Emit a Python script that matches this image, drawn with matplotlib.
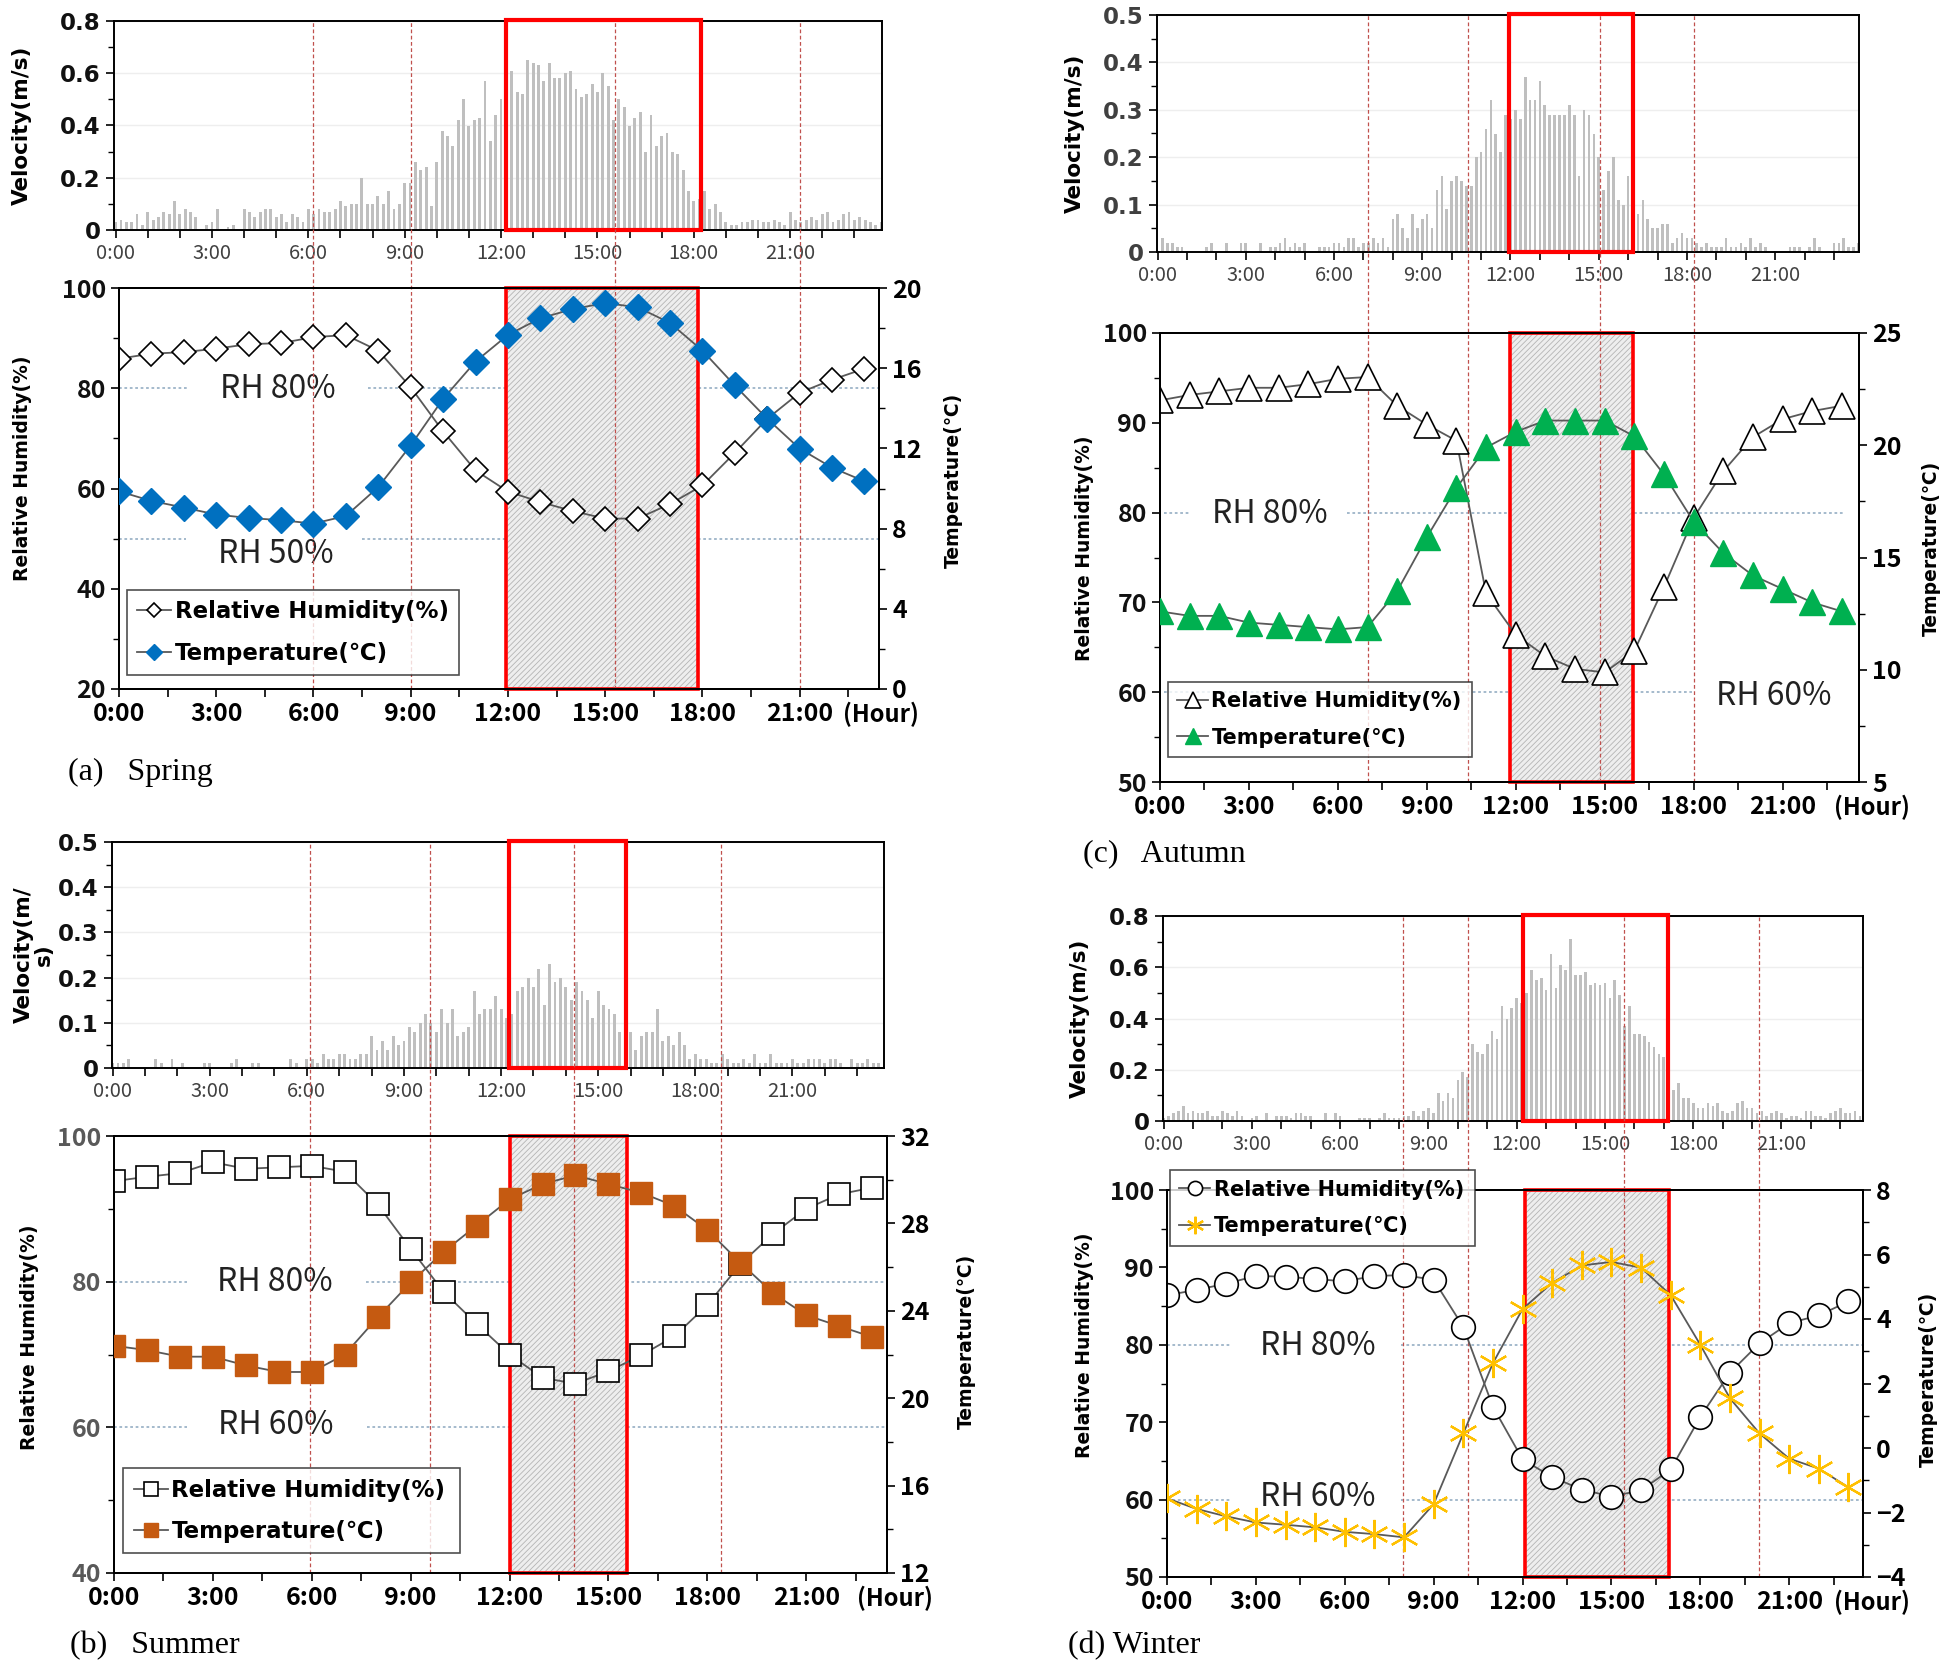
import numpy as np
import matplotlib
matplotlib.use("Agg")
import matplotlib.pyplot as plt
import matplotlib.transforms as mtrans
from matplotlib.patches import Rectangle
from matplotlib.lines import Line2D
from matplotlib.ticker import MultipleLocator, FuncFormatter

W, H, DPI = 1947, 1666, 100
plt.rcParams['font.family'] = ['Noto Sans CJK KR', 'DejaVu Sans']
plt.rcParams['hatch.linewidth'] = 0.6

HOURS = list(range(24))
TICK_HOURS = [0, 3, 6, 9, 12, 15, 18, 21]
TICK_LABELS = ["0:00", "3:00", "6:00", "9:00", "12:00", "15:00", "18:00", "21:00"]

# ---------------- data (10-min velocity, hourly RH / temperature) ----------------
spring_velocity = [
    0.03, 0.04, 0.03, 0.03, 0.06, 0.02, 0.07, 0.04, 0.05, 0.07, 0.06, 0.11,
    0.06, 0.08, 0.07, 0.05, 0.00, 0.02, 0.03, 0.08, 0.00, 0.01, 0.02, 0.00,
    0.08, 0.07, 0.05, 0.07, 0.08, 0.08, 0.05, 0.06, 0.03, 0.06, 0.05, 0.03,
    0.08, 0.06, 0.08, 0.07, 0.07, 0.08, 0.11, 0.09, 0.10, 0.10, 0.20, 0.10,
    0.10, 0.13, 0.10, 0.15, 0.08, 0.10, 0.18, 0.18, 0.26, 0.23, 0.24, 0.09,
    0.26, 0.38, 0.36, 0.32, 0.42, 0.50, 0.40, 0.42, 0.43, 0.57, 0.34, 0.44,
    0.50, 0.50, 0.61, 0.53, 0.52, 0.65, 0.64, 0.63, 0.57, 0.64, 0.58, 0.58,
    0.60, 0.61, 0.54, 0.51, 0.52, 0.56, 0.53, 0.60, 0.55, 0.42, 0.50, 0.47,
    0.40, 0.43, 0.45, 0.30, 0.44, 0.32, 0.36, 0.37, 0.30, 0.29, 0.23, 0.15,
    0.11, 0.12, 0.15, 0.08, 0.10, 0.07, 0.03, 0.02, 0.02, 0.03, 0.03, 0.04,
    0.04, 0.03, 0.03, 0.04, 0.03, 0.02, 0.07, 0.04, 0.03, 0.04, 0.05, 0.04,
    0.06, 0.07, 0.03, 0.04, 0.06, 0.07, 0.04, 0.05, 0.04, 0.03, 0.02, 0.03]
spring_rh = [85.9, 86.9, 87.2, 87.9, 88.8, 89.0, 90.2, 90.6, 87.5, 80.2, 71.4, 63.6,
             59.4, 57.3, 55.5, 54.0, 54.0, 56.9, 60.6, 67.1, 73.9, 79.1, 81.7, 83.9]
spring_temp = [9.86, 9.38, 9.05, 8.70, 8.53, 8.42, 8.25, 8.63, 10.07, 12.15, 14.47, 16.33,
               17.66, 18.49, 18.95, 19.25, 19.04, 18.26, 16.88, 15.14, 13.48, 11.99, 11.04, 10.36]

autumn_velocity = [
    0.00, 0.03, 0.02, 0.02, 0.01, 0.01, 0.00, 0.00, 0.00, 0.00, 0.01, 0.02,
    0.00, 0.00, 0.02, 0.00, 0.00, 0.02, 0.02, 0.00, 0.00, 0.02, 0.00, 0.01,
    0.01, 0.02, 0.03, 0.01, 0.02, 0.01, 0.02, 0.00, 0.00, 0.01, 0.01, 0.01,
    0.02, 0.02, 0.01, 0.03, 0.03, 0.01, 0.02, 0.02, 0.03, 0.02, 0.03, 0.01,
    0.07, 0.08, 0.05, 0.03, 0.08, 0.05, 0.07, 0.08, 0.05, 0.13, 0.16, 0.09,
    0.15, 0.16, 0.15, 0.14, 0.14, 0.20, 0.21, 0.26, 0.32, 0.25, 0.21, 0.29,
    0.28, 0.30, 0.28, 0.37, 0.32, 0.32, 0.36, 0.31, 0.29, 0.29, 0.29, 0.29,
    0.31, 0.29, 0.16, 0.30, 0.29, 0.25, 0.20, 0.13, 0.17, 0.20, 0.11, 0.10,
    0.16, 0.13, 0.08, 0.11, 0.07, 0.05, 0.05, 0.06, 0.06, 0.02, 0.03, 0.04,
    0.03, 0.03, 0.02, 0.01, 0.02, 0.01, 0.01, 0.01, 0.03, 0.01, 0.01, 0.02,
    0.01, 0.03, 0.01, 0.02, 0.01, 0.00, 0.00, 0.00, 0.00, 0.01, 0.01, 0.01,
    0.00, 0.01, 0.03, 0.01, 0.00, 0.00, 0.02, 0.02, 0.03, 0.01, 0.01, 0.02]
autumn_rh = [92.5, 93.1, 93.5, 93.9, 93.9, 94.3, 94.9, 95.1, 91.9, 89.8, 88.0, 71.0,
             66.4, 64.0, 62.6, 62.2, 64.6, 71.7, 79.4, 84.6, 88.4, 90.4, 91.3, 91.9]
autumn_temp = [12.6, 12.4, 12.4, 12.1, 12.0, 11.9, 11.8, 11.9, 13.5, 15.9, 18.1, 19.9,
               20.6, 21.1, 21.1, 21.1, 20.4, 18.7, 16.6, 15.2, 14.2, 13.6, 13.0, 12.6]

summer_velocity = [
    0.01, 0.01, 0.01, 0.02, 0.00, 0.00, 0.00, 0.00, 0.02, 0.01, 0.00, 0.02,
    0.00, 0.01, 0.00, 0.00, 0.00, 0.01, 0.01, 0.00, 0.00, 0.00, 0.01, 0.02,
    0.00, 0.00, 0.01, 0.01, 0.00, 0.00, 0.00, 0.00, 0.00, 0.02, 0.01, 0.00,
    0.02, 0.02, 0.01, 0.03, 0.02, 0.02, 0.03, 0.03, 0.02, 0.02, 0.03, 0.03,
    0.07, 0.04, 0.06, 0.04, 0.07, 0.05, 0.06, 0.09, 0.08, 0.10, 0.12, 0.10,
    0.08, 0.13, 0.10, 0.13, 0.07, 0.08, 0.09, 0.17, 0.12, 0.13, 0.13, 0.16,
    0.13, 0.11, 0.12, 0.17, 0.18, 0.20, 0.18, 0.22, 0.14, 0.23, 0.19, 0.20,
    0.18, 0.15, 0.19, 0.17, 0.15, 0.11, 0.17, 0.14, 0.13, 0.12, 0.08, 0.08,
    0.08, 0.04, 0.07, 0.08, 0.08, 0.13, 0.06, 0.07, 0.05, 0.08, 0.05, 0.02,
    0.03, 0.02, 0.02, 0.01, 0.01, 0.03, 0.02, 0.01, 0.01, 0.02, 0.01, 0.03,
    0.01, 0.01, 0.03, 0.01, 0.01, 0.01, 0.02, 0.01, 0.01, 0.02, 0.02, 0.02,
    0.01, 0.02, 0.02, 0.01, 0.00, 0.02, 0.01, 0.01, 0.02, 0.01, 0.01, 0.01]
summer_rh = [93.8, 94.4, 94.9, 96.4, 95.5, 95.7, 95.9, 95.1, 90.6, 84.5, 78.6, 74.2,
             70.0, 66.8, 66.0, 67.7, 69.9, 72.5, 76.8, 82.4, 86.6, 90.0, 92.0, 92.9]
summer_temp = [22.4, 22.2, 21.9, 21.9, 21.5, 21.2, 21.2, 22.0, 23.7, 25.3, 26.7, 27.9,
               29.1, 29.8, 30.2, 29.8, 29.4, 28.8, 27.7, 26.2, 24.8, 23.8, 23.3, 22.8]

winter_velocity = [
    0.01, 0.02, 0.03, 0.04, 0.06, 0.03, 0.04, 0.03, 0.03, 0.04, 0.02, 0.02,
    0.04, 0.03, 0.02, 0.04, 0.02, 0.00, 0.01, 0.02, 0.00, 0.03, 0.00, 0.02,
    0.02, 0.02, 0.01, 0.03, 0.03, 0.02, 0.02, 0.00, 0.00, 0.03, 0.00, 0.03,
    0.02, 0.00, 0.00, 0.00, 0.01, 0.01, 0.01, 0.00, 0.01, 0.03, 0.01, 0.01,
    0.01, 0.02, 0.02, 0.04, 0.02, 0.04, 0.05, 0.03, 0.11, 0.08, 0.11, 0.09,
    0.16, 0.19, 0.17, 0.30, 0.27, 0.26, 0.30, 0.35, 0.32, 0.45, 0.40, 0.44,
    0.48, 0.46, 0.50, 0.59, 0.55, 0.56, 0.51, 0.65, 0.52, 0.61, 0.59, 0.71,
    0.57, 0.57, 0.58, 0.53, 0.54, 0.53, 0.54, 0.48, 0.55, 0.49, 0.37, 0.45,
    0.34, 0.34, 0.33, 0.31, 0.29, 0.26, 0.25, 0.22, 0.12, 0.15, 0.09, 0.09,
    0.07, 0.05, 0.05, 0.07, 0.06, 0.07, 0.04, 0.03, 0.04, 0.07, 0.08, 0.05,
    0.05, 0.03, 0.04, 0.02, 0.03, 0.04, 0.03, 0.01, 0.02, 0.02, 0.01, 0.04,
    0.04, 0.02, 0.02, 0.01, 0.03, 0.04, 0.05, 0.03, 0.03, 0.04, 0.02, 0.02]
winter_rh = [86.4, 87.1, 87.9, 88.9, 88.8, 88.5, 88.2, 88.9, 89.0, 88.4, 82.3, 72.0,
             65.2, 62.9, 61.3, 60.4, 61.2, 63.9, 70.7, 76.4, 80.2, 82.8, 83.8, 85.6]
winter_temp = [-1.56, -1.89, -2.12, -2.31, -2.38, -2.46, -2.60, -2.67, -2.77, -1.74, 0.45, 2.63,
               4.31, 5.12, 5.66, 5.77, 5.59, 4.74, 3.20, 1.54, 0.45, -0.33, -0.64, -1.22]

captions = ["(a)   Spring", "(c)   Autumn", "(b)   Summer", "(d) Winter"]
legend_labels = ["Relative Humidity(%)", "Temperature(\u2103)"]

# ---------------- panel styling / layout ----------------
panels = [
    dict(vel=spring_velocity, rh=spring_rh, temp=spring_temp, caption=captions[0],
         top_rect=(114, 21, 882, 230), bot_rect=(119, 288, 879, 689),
         top_xlim=(-0.05, 23.86), bot_xlim=(0, 23.45),
         vmax=0.8, vmaj=0.2, vmin=0.1,
         rh_lim=(20, 100), rh_maj=20, rh_min=10,
         t_lim=(0, 20), t_maj=4, t_min=2,
         dashed=[6.0, 9.0, 15.3, 21.0], top_box=(12.15, 18.23), bot_box=(11.95, 17.85),
         rh_m=dict(marker='D', ms=12.5, mfc='white', mec='black', mew=1.2),
         t_m=dict(marker='D', ms=13.5, mfc='#0070C0', mec='#0070C0', mew=1.0),
         refs=[("RH 80%", 4.9, 79.8, 80, [(0, 2.17), (7.67, 23.45)]),
               ("RH 50%", 4.85, 47.0, 50, [(0, 2.07), (7.5, 23.45)])],
         legend=(0.010, 0.036, 0.438, 0.21), leg_size=16.5,
         vlab='Velocity(m/s)', vlab_x=-0.107, rhlab=(-0.115, 0.55), tlab=(1.085, 0.52),
         hour_x=22.35, cap_xy=(68, 772), vytick='#111111', rhtick='#111111'),
    dict(vel=autumn_velocity, rh=autumn_rh, temp=autumn_temp, caption=captions[1],
         top_rect=(1157, 15, 1859, 252), bot_rect=(1160, 333, 1859, 782),
         top_xlim=(-0.02, 23.85), bot_xlim=(0, 23.58),
         vmax=0.5, vmaj=0.1, vmin=0.05,
         rh_lim=(50, 100), rh_maj=10, rh_min=5,
         t_lim=(5, 25), t_maj=5, t_min=2.5,
         dashed=[7.0, 10.4, 14.85, 18.0], top_box=(11.96, 16.15), bot_box=(11.8, 15.96),
         rh_m=dict(marker='^', ms=19, mfc='white', mec='black', mew=1.2),
         t_m=dict(marker='^', ms=19, mfc='#00B050', mec='#00B050', mew=1.0),
         refs=[("RH 80%", 3.7, 79.8, 80, [(0.15, 1.0), (6.3, 23.1)]),
               ("RH 60%", 20.7, 59.6, 60, [(0.15, 17.95)])],
         legend=(0.011, 0.035, 0.436, 0.209), leg_size=15,
         vlab='Velocity(m/s)', vlab_x=-0.103, rhlab=(-0.095, 0.52), tlab=(1.09, 0.52),
         hour_x=22.75, cap_xy=(1083, 854), vytick='#404040', rhtick='#111111'),
    dict(vel=summer_velocity, rh=summer_rh, temp=summer_temp, caption=captions[2],
         top_rect=(112, 842, 884, 1068), bot_rect=(114, 1136, 887, 1573),
         top_xlim=(-0.02, 23.83), bot_xlim=(0, 23.45),
         vmax=0.5, vmaj=0.1, vmin=0.05,
         rh_lim=(40, 100), rh_maj=20, rh_min=10,
         t_lim=(12, 32), t_maj=4, t_min=2,
         dashed=[5.96, 9.58, 13.96, 18.4], top_box=(12.26, 15.87), bot_box=(12.0, 15.55),
         rh_m=dict(marker='s', ms=16.5, mfc='white', mec='black', mew=1.2),
         t_m=dict(marker='s', ms=16.5, mfc='#C55A11', mec='#C55A11', mew=1.0),
         refs=[("RH 80%", 4.87, 80.0, 80, [(0, 2.2), (7.64, 23.45)]),
               ("RH 60%", 4.9, 60.3, 60, [(0, 2.2), (7.67, 23.45)])],
         legend=(0.012, 0.038, 0.436, 0.209), leg_size=16.5,
         vlab='Velocity(m/\ns)', vlab_x=-0.075, rhlab=(-0.097, 0.54), tlab=(1.09, 0.53),
         hour_x=22.55, cap_xy=(70, 1646), vytick='#111111', rhtick='#595959'),
    dict(vel=winter_velocity, rh=winter_rh, temp=winter_temp, caption=captions[3],
         top_rect=(1163, 916, 1863, 1121), bot_rect=(1167, 1190, 1863, 1577),
         top_xlim=(-0.02, 23.77), bot_xlim=(0, 23.49),
         vmax=0.8, vmaj=0.2, vmin=0.1,
         rh_lim=(50, 100), rh_maj=10, rh_min=5,
         t_lim=(-4, 8), t_maj=2, t_min=1,
         dashed=[7.97, 10.15, 15.41, 19.98], top_box=(12.23, 17.13), bot_box=(12.09, 16.93),
         rh_m=dict(marker='o', ms=17, mfc='white', mec='black', mew=1.2),
         t_m=dict(marker=(6, 2, 0), ms=21, mfc='#FFC000', mec='#FFC000', mew=1.6),
         refs=[("RH 80%", 5.1, 79.9, 80, [(0, 2.2), (7.9, 23.49)]),
               ("RH 60%", 5.1, 60.4, 60, [(0, 2.2), (7.9, 23.49)])],
         legend=(0.004, 0.85, 0.439, 0.207), leg_size=15,
         vlab='Velocity(m/s)', vlab_x=-0.105, rhlab=(-0.105, 0.60), tlab=(1.08, 0.51),
         hour_x=22.5, cap_xy=(1068, 1646), vytick='#111111', rhtick='#111111'),
]

LABEL_FONT = ['DejaVu Sans', 'Noto Sans CJK KR']
TICK_FONT = ['Noto Sans CJK KR', 'DejaVu Sans']
LINE_COLOR = '#595959'
vel_fmt = FuncFormatter(lambda v, pos: '0' if abs(v) < 1e-9 else f'{v:.1f}')

fig = plt.figure(figsize=(W / DPI, H / DPI), dpi=DPI)


def frac_rect(x0, y0, x1, y1):
    return [x0 / W, 1 - y1 / H, (x1 - x0) / W, (y1 - y0) / H]


def style_spines(ax, lw=1.4):
    for s in ax.spines.values():
        s.set_color('black')
        s.set_linewidth(lw)


def draw_panel(p):
    axv = fig.add_axes(frac_rect(*p['top_rect']))
    axm = fig.add_axes(frac_rect(*p['bot_rect']))
    axt = axm.twinx()

    # ---- velocity bars ----
    t = np.arange(len(p['vel'])) / 6.0
    axv.bar(t, p['vel'], width=0.09, color='#bfbfbf', zorder=2)
    axv.set_xlim(*p['top_xlim'])
    axv.set_ylim(0, p['vmax'])
    axv.yaxis.set_major_locator(MultipleLocator(p['vmaj']))
    axv.yaxis.set_minor_locator(MultipleLocator(p['vmin']))
    axv.yaxis.set_major_formatter(vel_fmt)
    axv.set_xticks(HOURS)
    axv.set_xticklabels([TICK_LABELS[TICK_HOURS.index(h)] if h in TICK_HOURS else '' for h in HOURS])
    axv.grid(axis='y', which='major', color='#eeeeee', lw=1.0, zorder=0)
    axv.set_axisbelow(True)
    axv.tick_params(axis='y', which='major', direction='out', length=6, width=1.2,
                    labelsize=16.5, labelcolor=p['vytick'], labelfontfamily=LABEL_FONT)
    axv.tick_params(axis='y', which='minor', direction='out', length=4, width=1.0)
    axv.tick_params(axis='x', direction='out', length=6, width=1.2, labelsize=14.5,
                    labelcolor='#404040', labelfontfamily=TICK_FONT)
    for lbl in axv.get_yticklabels():
        lbl.set_fontweight('bold')
    style_spines(axv)
    axv.add_patch(Rectangle((p['top_box'][0], 0), p['top_box'][1] - p['top_box'][0],
                            p['vmax'] * 1.005, fill=False, edgecolor='#FF0000', lw=3.0,
                            zorder=4, clip_on=False))
    axv.set_ylabel(p['vlab'], fontsize=15.5, fontweight='bold', family=LABEL_FONT,
                   linespacing=1.0)
    axv.yaxis.set_label_coords(p['vlab_x'], 0.5)

    # ---- main axes: RH (left) and temperature (right) ----
    axm.set_xlim(*p['bot_xlim'])
    axm.set_ylim(*p['rh_lim'])
    axt.set_ylim(*p['t_lim'])
    axm.yaxis.set_major_locator(MultipleLocator(p['rh_maj']))
    axm.yaxis.set_minor_locator(MultipleLocator(p['rh_min']))
    axt.yaxis.set_major_locator(MultipleLocator(p['t_maj']))
    axt.yaxis.set_minor_locator(MultipleLocator(p['t_min']))
    axm.set_xticks(np.arange(0, 24, 1.5))
    axm.set_xticklabels([TICK_LABELS[TICK_HOURS.index(h)] if h in TICK_HOURS else ''
                         for h in np.arange(0, 24, 1.5)])
    axm.tick_params(axis='x', direction='out', length=6, width=1.2, labelsize=18,
                    labelfontfamily=TICK_FONT)
    axm.tick_params(axis='y', which='major', direction='out', length=6, width=1.2,
                    labelsize=18, labelcolor=p['rhtick'], labelfontfamily=TICK_FONT)
    axm.tick_params(axis='y', which='minor', direction='out', length=4, width=1.0)
    axt.tick_params(axis='y', which='major', direction='out', length=6, width=1.2,
                    labelsize=18, labelfontfamily=TICK_FONT)
    axt.tick_params(axis='y', which='minor', direction='out', length=4, width=1.0)
    for lbl in axm.get_xticklabels() + axm.get_yticklabels() + axt.get_yticklabels():
        lbl.set_fontweight('bold')
    style_spines(axm)
    style_spines(axt)

    y0, y1 = p['rh_lim']
    b0, b1 = p['bot_box']
    axm.add_patch(Rectangle((b0, y0), b1 - b0, y1 - y0, facecolor='#eeeeee',
                            edgecolor='#b4b4b4', hatch='//////', lw=0, zorder=1.5))
    axm.add_patch(Rectangle((b0, y0), b1 - b0, y1 - y0, fill=False,
                            edgecolor='#FF0000', lw=2.6, zorder=2.2, clip_on=False))

    # reference RH lines and labels
    for text, tx, ty, lev, segs in p['refs']:
        for s0, s1 in segs:
            axm.plot([s0, s1], [lev, lev], color='#9db4c8', lw=1.3, ls=(0, (1.5, 1.5)),
                     zorder=1)
        axm.text(tx, ty, text, fontsize=23, fontweight='normal', color='#222222',
                 ha='center', va='center', zorder=2)

    # dashed red time markers spanning both axes
    top_frac = (p['bot_rect'][3] - p['top_rect'][1]) / (p['bot_rect'][3] - p['bot_rect'][1])
    trans = mtrans.blended_transform_factory(axm.transData, axm.transAxes)
    for x in p['dashed']:
        axm.add_line(Line2D([x, x], [0, top_frac], transform=trans, color='#C0504D',
                            lw=0.9, ls=(0, (3, 2)), zorder=2.5, clip_on=False))

    axm.plot(HOURS, p['rh'], color=LINE_COLOR, lw=1.3, zorder=3, **p['rh_m'])
    axt.plot(HOURS, p['temp'], color=LINE_COLOR, lw=1.3, zorder=3, **p['t_m'])

    axm.set_ylabel('Relative Humidity(%)', fontsize=13.5, fontweight='bold', family=LABEL_FONT)
    axm.yaxis.set_label_coords(*p['rhlab'])
    axt.set_ylabel('Temperature(\u2103)', fontsize=13.5, fontweight='bold', family=LABEL_FONT)
    axt.yaxis.set_label_coords(*p['tlab'])

    # "(Hour)" unit label
    axm.annotate('(Hour)', xy=(p['hour_x'], 0),
                 xycoords=mtrans.blended_transform_factory(axm.transData, axm.transAxes),
                 xytext=(0, -9.5), textcoords='offset points', ha='left', va='top',
                 fontsize=17, fontweight='bold', family=TICK_FONT, annotation_clip=False)

    # legend
    h_rh = Line2D([], [], color=LINE_COLOR, lw=1.3, **p['rh_m'])
    h_t = Line2D([], [], color=LINE_COLOR, lw=1.3, **p['t_m'])
    leg = axt.legend([h_rh, h_t], legend_labels, loc='center', mode='expand',
                     bbox_to_anchor=p['legend'], bbox_transform=axt.transAxes,
                     borderaxespad=0, frameon=True, fancybox=False, markerscale=0.6,
                     handlelength=1.5, handletextpad=0.15, labelspacing=0.8,
                     borderpad=0.45,
                     prop=dict(family=LABEL_FONT, weight='bold', size=p['leg_size']))
    leg.get_frame().set_edgecolor('#222222')
    leg.get_frame().set_linewidth(1.2)
    leg.set_zorder(10)

    fig.text(p['cap_xy'][0] / W, 1 - p['cap_xy'][1] / H, p['caption'],
             family=['Liberation Serif', 'DejaVu Serif'], fontsize=23,
             ha='left', va='center')


for p in panels:
    draw_panel(p)

fig.savefig('out.png', dpi=DPI, facecolor='white')
